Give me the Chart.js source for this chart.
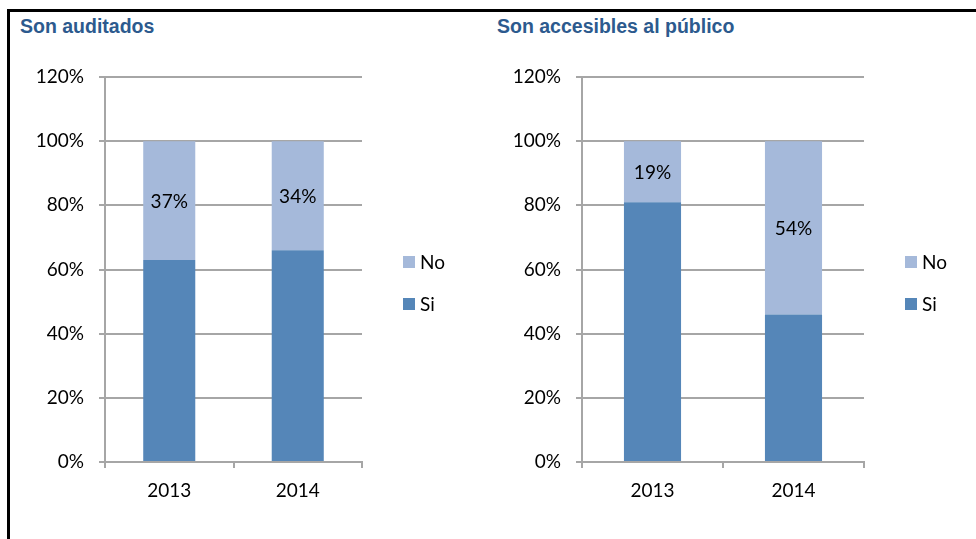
<!DOCTYPE html>
<html>
<head>
<meta charset="utf-8">
<script src="https://cdn.jsdelivr.net/npm/chart.js@4.4.1/dist/chart.umd.min.js"></script>
<style>
  body { margin: 0; background: #fff; width: 976px; height: 539px; overflow: hidden; position: relative; }
  canvas { position: absolute; top: 0; }
  #left { left: 0; }
  #right { left: 488px; }
  .title { position: absolute; top: 15px; font: bold 19.5px "Liberation Sans", Arial, sans-serif; color: #2c5a8e; }
  .frame { position: absolute; left: 7px; top: 9px; width: 976px; height: 540px; border-top: 3px solid #000; border-left: 3px solid #000; box-sizing: border-box; pointer-events: none; }
</style>
</head>
<body>
<div class="frame"></div>
<div class="title" style="left:20px">Son auditados</div>
<div class="title" style="left:497px">Son accesibles al público</div>
<canvas id="left" width="488" height="539"></canvas>
<canvas id="right" width="488" height="539"></canvas>
<script>
// data
var years = ['2013', '2014'];
var seriesNames = ['Si', 'No'];
var seriesColors = ['#5586b8', '#a5b9da'];
var auditadosSi = [63, 66];
var auditadosNo = [37, 34];
var accesiblesSi = [81, 46];
var accesiblesNo = [19, 54];
var yMax = 120;
var yStep = 20;

var gridColor = '#a6a6a6';
var textFont = { family: 'Lato', size: 19 };

// percentage labels in the middle of the "No" segments
var noLabels = {
    id: 'noLabels',
    afterDatasetsDraw: function (chart) {
        var ctx = chart.ctx;
        var meta = chart.getDatasetMeta(1);
        var values = chart.data.datasets[1].data;
        ctx.save();
        ctx.font = '19px Lato';
        ctx.fillStyle = '#000';
        ctx.textAlign = 'center';
        ctx.textBaseline = 'middle';
        meta.data.forEach(function (bar, i) {
            ctx.fillText(values[i] + '%', bar.x, (bar.y + bar.base) / 2 + 1);
        });
        ctx.restore();
    }
};

// legend to the right of the plot, No above Si
var sideLegend = {
    id: 'sideLegend',
    afterDraw: function (chart) {
        var ctx = chart.ctx;
        var area = chart.chartArea;
        var x = area.right + 41;
        var rows = [{ i: 1, y: area.top + 185 }, { i: 0, y: area.top + 227 }];
        ctx.save();
        ctx.font = '19px Lato';
        ctx.textBaseline = 'middle';
        ctx.textAlign = 'left';
        rows.forEach(function (r) {
            var ds = chart.data.datasets[r.i];
            ctx.fillStyle = ds.backgroundColor;
            ctx.fillRect(x, r.y - 6, 12, 12);
            ctx.fillStyle = '#000';
            ctx.fillText(ds.label, x + 17, r.y + 1);
        });
        ctx.restore();
    }
};

function makeChart(id, si, no, yWidth, rightPad) {
    var ctx = document.getElementById(id).getContext('2d');
    return new Chart(ctx, {
        type: 'bar',
        data: {
            labels: years,
            datasets: [
                { label: seriesNames[0], data: si, backgroundColor: seriesColors[0], categoryPercentage: 1, barPercentage: 0.405 },
                { label: seriesNames[1], data: no, backgroundColor: seriesColors[1], categoryPercentage: 1, barPercentage: 0.405 }
            ]
        },
        options: {
            responsive: false,
            animation: false,
            devicePixelRatio: 1,
            layout: { padding: { left: 0, top: 77, right: rightPad, bottom: 0 } },
            plugins: {
                legend: { display: false },
                tooltip: { enabled: false }
            },
            scales: {
                x: {
                    stacked: true,
                    afterFit: function (s) { s.height = 77; },
                    grid: { drawOnChartArea: false, drawTicks: true, tickLength: 6, color: gridColor, lineWidth: 2, offset: true },
                    border: { display: true, color: gridColor, width: 2 },
                    ticks: { color: '#000', font: textFont, padding: 11 }
                },
                y: {
                    stacked: true,
                    min: 0,
                    max: yMax,
                    afterFit: function (s) { s.width = yWidth; },
                    grid: { color: gridColor, lineWidth: 2, tickLength: 6 },
                    border: { display: true, color: gridColor, width: 2 },
                    ticks: {
                        stepSize: yStep,
                        color: '#000',
                        font: textFont,
                        padding: 15,
                        callback: function (v) { return v + '%'; }
                    }
                }
            }
        },
        plugins: [noLabels, sideLegend]
    });
}

var auditadosChart = makeChart('left', auditadosSi, auditadosNo, 105, 488 - 362);
var accesiblesChart = makeChart('right', accesiblesSi, accesiblesNo, 94, 488 - 376);
</script>
</body>
</html>
